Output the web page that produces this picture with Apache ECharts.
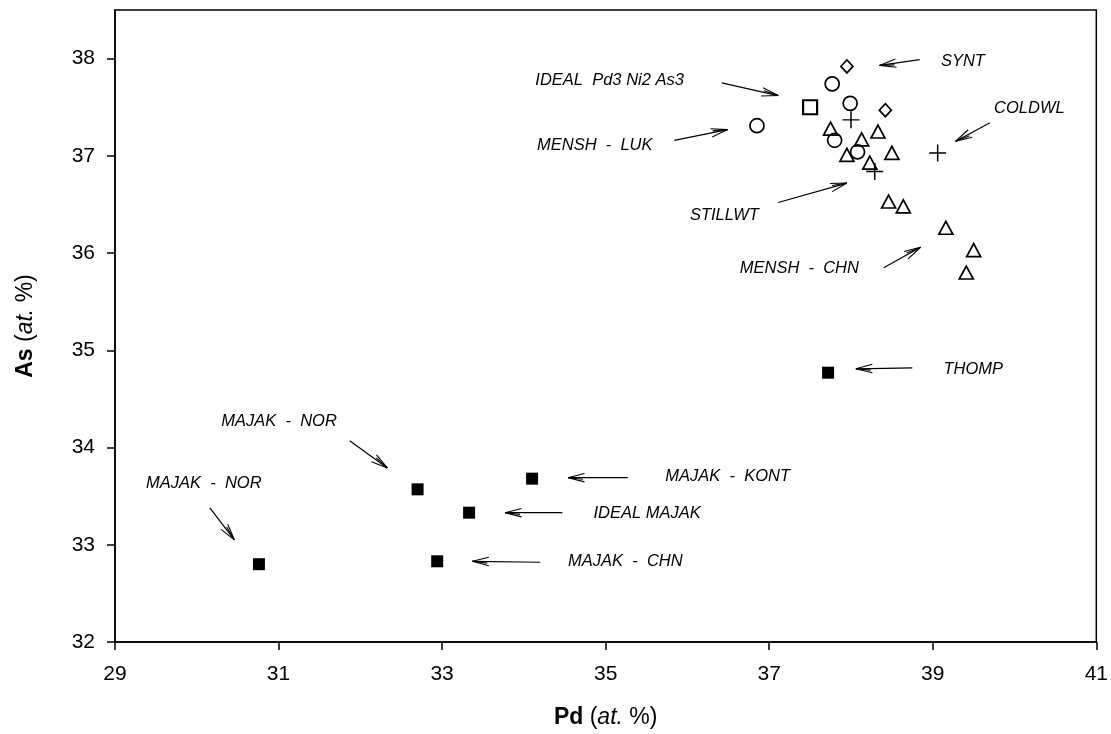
<!DOCTYPE html>
<html lang="en">
<head>
    <meta charset="UTF-8">
    <title>Pd - As</title>
    <script src="https://cdn.jsdelivr.net/npm/echarts@6/dist/echarts.min.js"></script>
    <style>
        html, body { margin: 0; padding: 0; background: #fff; }
        #main { width: 1111px; height: 734px; }
    </style>
</head>
<body>

<div id="main"></div>

<script type="text/javascript">
    // tick values
    var xTicks = [29, 31, 33, 35, 37, 39, 41];
    var yTicks = [32, 33, 34, 35, 36, 37, 38];

    // Pd, As (at. %)
    var filledSquares = [[30.76, 32.80], [32.70, 33.57], [33.33, 33.33], [32.94, 32.83], [34.10, 33.68], [37.72, 34.77]];
    var openCircles = [[37.77, 37.74], [37.99, 37.54], [36.85, 37.31], [37.80, 37.16], [38.08, 37.04]];
    var openDiamonds = [[37.95, 37.92], [38.42, 37.47]];
    var openSquares = [[37.50, 37.50]];
    var crosses = [[38.00, 37.37], [38.29, 36.84], [39.06, 37.03]];
    var openTriangles = [[37.75, 37.28], [38.13, 37.17], [38.33, 37.25], [37.95, 37.01], [38.50, 37.03],
        [38.23, 36.93], [38.46, 36.53], [38.64, 36.48], [39.16, 36.26], [39.50, 36.03], [39.41, 35.80]];

    // annotations: text, where the text starts, arrow from -> to
    var noteText = ['SYNT', 'COLDWL', 'IDEAL  Pd3 Ni2 As3', 'MENSH  -  LUK', 'STILLWT', 'MENSH  -  CHN', 'THOMP',
        'MAJAK  -  KONT', 'IDEAL MAJAK', 'MAJAK  -  CHN', 'MAJAK  -  NOR', 'MAJAK  -  NOR'];
    var notePos = [[39.10, 37.97], [39.75, 37.49], [34.14, 37.78], [34.16, 37.11], [36.03, 36.39], [36.64, 35.84],
        [39.13, 34.80], [35.73, 33.70], [34.85, 33.32], [34.54, 32.83], [30.30, 34.27], [29.38, 33.63]];
    var arrows = [
        [38.84, 37.99, 38.35, 37.93],
        [39.70, 37.34, 39.28, 37.15],
        [36.42, 37.75, 37.11, 37.62],
        [35.84, 37.16, 36.49, 37.27],
        [37.11, 36.52, 37.95, 36.72],
        [38.40, 35.85, 38.85, 36.06],
        [38.75, 34.82, 38.06, 34.81],
        [35.27, 33.69, 34.54, 33.69],
        [34.47, 33.33, 33.77, 33.33],
        [34.20, 32.82, 33.37, 32.83],
        [31.87, 34.07, 32.33, 33.79],
        [30.16, 33.38, 30.46, 33.05]
    ];

    var FONT = '"Liberation Sans", Arial, Helvetica, sans-serif';
    var crossPath = 'path://M7.3,0h1.4v7.3h7.3v1.4h-7.3v7.3h-1.4v-7.3h-7.3v-1.4h7.3z';

    function openStyle(w) {
        return { color: 'transparent', borderColor: '#000', borderWidth: w || 1.7, opacity: 1 };
    }

    function renderArrow(params, api) {
        var a = api.coord([api.value(0), api.value(1)]);
        var b = api.coord([api.value(2), api.value(3)]);
        var ang = Math.atan2(a[1] - b[1], a[0] - b[0]);
        var children = [{
            type: 'line',
            shape: { x1: a[0], y1: a[1], x2: b[0], y2: b[1] },
            style: { stroke: '#000', lineWidth: 1.2 }
        }];
        [[0.25, 17], [-0.25, 17], [0.11, 15]].forEach(function (h) {
            children.push({
                type: 'line',
                shape: {
                    x1: b[0], y1: b[1],
                    x2: b[0] + h[1] * Math.cos(ang + h[0]),
                    y2: b[1] + h[1] * Math.sin(ang + h[0])
                },
                style: { stroke: '#000', lineWidth: 1.1 }
            });
        });
        return { type: 'group', children: children };
    }

    function renderNote(params, api) {
        var p = api.coord([api.value(0), api.value(1)]);
        return {
            type: 'text',
            x: p[0],
            y: p[1],
            style: {
                text: noteText[params.dataIndex],
                font: 'italic 16.5px ' + FONT,
                fill: '#000',
                align: 'left',
                verticalAlign: 'middle'
            }
        };
    }

    var myChart = echarts.init(document.getElementById('main'), null, { renderer: 'canvas' });

    var nameRich = {
        b: { fontFamily: FONT, fontSize: 23, fontWeight: 'bold', color: '#000' },
        i: { fontFamily: FONT, fontSize: 23, fontStyle: 'italic', color: '#000' }
    };

    var option = {
        animation: false,
        backgroundColor: '#fff',
        grid: {
            left: 115, right: 13, top: 10, bottom: 92,
            show: true, borderColor: '#000', borderWidth: 1.5, backgroundColor: 'transparent'
        },
        xAxis: {
            type: 'value',
            min: 29, max: 41,
            name: '{b|Pd} ({i|at.} %)',
            nameLocation: 'middle',
            nameGap: 64,
            nameTextStyle: { fontFamily: FONT, fontSize: 23, color: '#000', rich: nameRich },
            splitLine: { show: false },
            axisLine: { lineStyle: { color: '#000', width: 1.5 } },
            axisTick: { show: true, length: 8, customValues: xTicks, lineStyle: { color: '#000', width: 1.5 } },
            axisLabel: { customValues: xTicks, margin: 22, fontFamily: FONT, fontSize: 21, color: '#000' }
        },
        yAxis: {
            type: 'value',
            min: 32, max: 38.5,
            name: '{b|As} ({i|at.} %)',
            nameLocation: 'middle',
            nameRotate: 90,
            nameGap: 78,
            nameTextStyle: { fontFamily: FONT, fontSize: 23, color: '#000', rich: nameRich },
            splitLine: { show: false },
            axisLine: { lineStyle: { color: '#000', width: 1.5 } },
            axisTick: { show: true, length: 8, customValues: yTicks, lineStyle: { color: '#000', width: 1.5 } },
            axisLabel: { customValues: yTicks, margin: 20, fontFamily: FONT, fontSize: 21, color: '#000' }
        },
        series: [
            {
                name: 'arrows', type: 'custom', renderItem: renderArrow,
                encode: { x: [0, 2], y: [1, 3] }, data: arrows, silent: true
            },
            {
                name: 'notes', type: 'custom', renderItem: renderNote,
                encode: { x: 0, y: 1 }, data: notePos, silent: true
            },
            {
                name: 'filled squares', type: 'scatter', symbol: 'rect', symbolSize: 12,
                itemStyle: { color: '#000', opacity: 1 }, data: filledSquares
            },
            {
                name: 'circles', type: 'scatter', symbol: 'circle', symbolSize: 14,
                itemStyle: openStyle(), data: openCircles
            },
            {
                name: 'diamonds', type: 'scatter', symbol: 'diamond', symbolSize: [12, 13],
                itemStyle: openStyle(), data: openDiamonds
            },
            {
                name: 'squares', type: 'scatter', symbol: 'rect', symbolSize: 14,
                itemStyle: openStyle(2.2), data: openSquares
            },
            {
                name: 'crosses', type: 'scatter', symbol: crossPath, symbolSize: 17,
                itemStyle: { color: '#000', opacity: 1 }, data: crosses
            },
            {
                name: 'triangles', type: 'scatter', symbol: 'triangle', symbolSize: [14, 13],
                itemStyle: openStyle(), data: openTriangles
            }
        ]
    };

    myChart.setOption(option);
</script>

</body>
</html>
